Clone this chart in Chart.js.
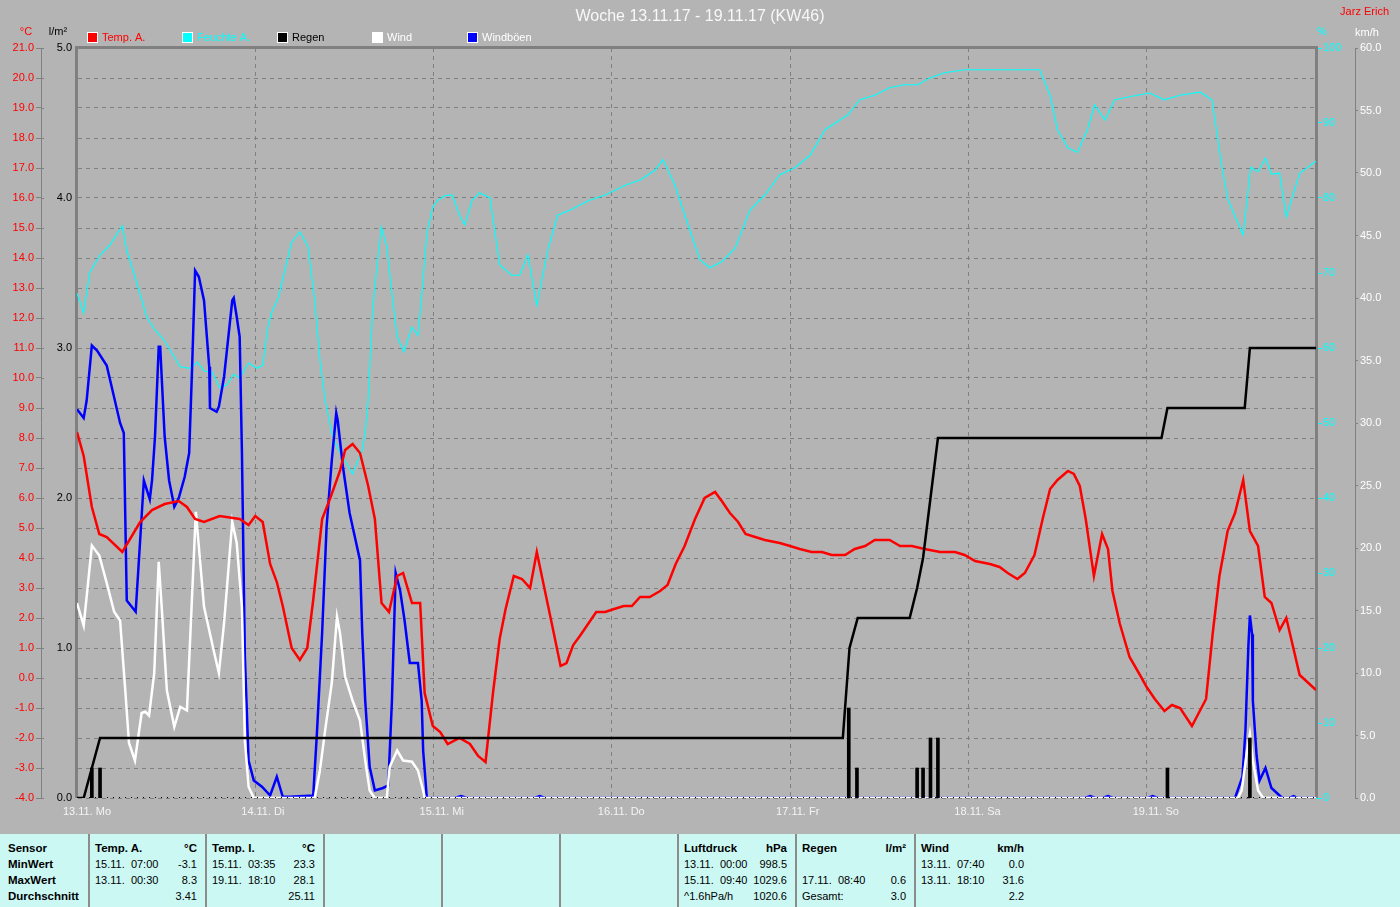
<!DOCTYPE html>
<html lang="de">
<head>
    <title>Woche 13.11.17 - 19.11.17 (KW46)</title>
    <meta charset="utf-8">
    <script src="https://cdn.jsdelivr.net/npm/chart.js"></script>
    <style>
        html, body { margin: 0; padding: 0; background: #b4b4b4; }
        body { width: 1400px; height: 907px; position: relative; overflow: hidden; }
        #weekchart { position: absolute; left: 0; top: 0; }
        .stats {
            position: absolute; left: 0; top: 834px; width: 1400px; height: 73px;
            background: #ccf8f4; color: #000;
            font-family: "Liberation Sans", Arial, sans-serif;
            font-size: 11px;
        }
        .col { position: absolute; top: 0; height: 73px; box-sizing: border-box; padding: 6px 8px 0 5px; border-left: 2px solid #8c8c8c; }
        .col.first { border-left: none; padding-left: 8px; }
        .row { display: flex; justify-content: space-between; height: 16px; line-height: 16px; white-space: pre; }
        .b { font-weight: bold; font-size: 11.5px; }
    </style>
</head>
<body>
    <canvas id="weekchart" width="1400" height="830"></canvas>
    <div class="stats" id="stats"></div>
    <script>
        // x axis: hours since 13.11. 00:00
        const hourMax = 166.8;
        const dayTicks = [0, 24, 48, 72, 96, 120, 144];
        const dayLabels = ['13.11. Mo', '14.11. Di', '15.11. Mi', '16.11. Do', '17.11. Fr', '18.11. Sa', '19.11. So'];

        const tempHours = [0, 0.9, 2.0, 3.0, 4.0, 6.1, 8.5, 10.1, 11.8, 13.7, 14.8, 15.9, 17.1, 19.2, 21.9, 23.1, 24.0, 25.0, 26.0, 26.9, 27.7, 28.9, 30.0, 31.0, 31.8, 33.0, 34.1, 35.4, 36.1, 37.1, 38.1, 39.2, 40.1, 41.0, 42.0, 43.1, 43.9, 45.1, 46.2, 46.8, 47.9, 48.9, 49.9, 51.5, 52.9, 54.0, 55.0, 56.0, 56.9, 57.7, 58.8, 59.9, 61.0, 61.9, 63.0, 64.1, 65.1, 65.9, 66.8, 67.7, 68.8, 69.9, 71.1, 72.3, 73.6, 74.7, 75.8, 77.1, 78.5, 79.5, 80.6, 81.8, 83.2, 84.5, 85.9, 86.8, 87.9, 89.0, 90.0, 91.3, 92.6, 94.6, 96.0, 97.3, 98.9, 100.3, 101.6, 103.4, 104.7, 106.1, 107.4, 109.4, 110.8, 112.4, 114.1, 116.2, 118.2, 119.5, 120.9, 122.9, 124.2, 125.3, 126.6, 127.6, 128.9, 130.0, 131.0, 132.0, 133.4, 134.2, 135.0, 135.8, 136.9, 138.0, 138.8, 139.4, 140.4, 141.7, 143.1, 144.0, 145.1, 146.4, 147.4, 148.5, 150.1, 152.0, 152.9, 153.8, 154.9, 155.9, 157.0, 157.9, 159.0, 159.9, 160.8, 161.9, 162.8, 164.6, 166.8];
        const tempValues = [8.2, 7.4, 5.7, 4.8, 4.7, 4.2, 5.2, 5.6, 5.8, 5.9, 5.7, 5.3, 5.2, 5.4, 5.3, 5.1, 5.4, 5.2, 3.8, 3.2, 2.4, 1.0, 0.6, 1.0, 2.6, 5.3, 6.0, 6.9, 7.6, 7.8, 7.5, 6.4, 5.3, 2.5, 2.2, 3.4, 3.5, 2.5, 2.5, -0.5, -1.6, -1.8, -2.2, -2.0, -2.2, -2.6, -2.8, -0.5, 1.3, 2.3, 3.4, 3.3, 3.0, 4.2, 2.9, 1.6, 0.4, 0.5, 1.1, 1.4, 1.8, 2.2, 2.2, 2.3, 2.4, 2.4, 2.7, 2.7, 2.9, 3.1, 3.8, 4.4, 5.3, 6.0, 6.2, 5.9, 5.5, 5.2, 4.8, 4.7, 4.6, 4.5, 4.4, 4.3, 4.2, 4.2, 4.1, 4.1, 4.3, 4.4, 4.6, 4.6, 4.4, 4.4, 4.3, 4.2, 4.2, 4.1, 3.9, 3.8, 3.7, 3.5, 3.3, 3.5, 4.1, 5.3, 6.3, 6.6, 6.9, 6.8, 6.4, 5.3, 3.4, 4.8, 4.3, 2.9, 1.8, 0.7, 0.1, -0.3, -0.7, -1.1, -0.9, -1.0, -1.6, -0.7, 1.5, 3.4, 4.9, 5.5, 6.6, 4.9, 4.4, 2.7, 2.5, 1.6, 2.0, 0.1, -0.4];

        const humHours = [0, 0.9, 1.7, 3.1, 4.4, 6.1, 6.7, 7.8, 9.4, 10.5, 11.7, 12.8, 13.9, 15.2, 16.2, 17.2, 18.2, 19.2, 20.2, 21.1, 21.9, 23.1, 24.2, 25.0, 25.7, 26.2, 27.1, 28.0, 28.9, 30.0, 31.1, 32.0, 32.7, 33.4, 34.3, 35.0, 37.1, 38.4, 38.8, 39.2, 39.8, 40.5, 41.0, 41.7, 42.5, 43.1, 44.0, 45.1, 45.9, 46.4, 47.1, 47.9, 48.6, 49.5, 50.5, 51.5, 52.2, 53.2, 54.2, 55.6, 56.9, 58.5, 59.6, 60.7, 61.9, 63.4, 64.7, 66.4, 69.0, 71.1, 73.8, 75.8, 77.8, 78.9, 80.5, 82.5, 83.9, 85.2, 86.8, 88.6, 90.6, 92.6, 94.6, 96.6, 98.7, 100.7, 102.7, 103.8, 105.4, 107.4, 109.4, 111.4, 113.2, 114.8, 116.8, 119.5, 124.2, 129.6, 131.0, 132.0, 133.4, 134.7, 136.1, 137.0, 138.4, 139.7, 141.7, 144.4, 146.4, 148.5, 151.2, 152.8, 153.6, 154.1, 154.9, 156.1, 157.0, 158.0, 159.0, 160.0, 160.8, 161.9, 162.8, 164.6, 166.8];
        const humValues = [67.3, 64.7, 70.0, 72.4, 73.7, 76.3, 73.0, 69.5, 64.1, 62.4, 61.1, 59.3, 57.5, 57.3, 58.1, 56.9, 56.8, 54.7, 55.1, 56.5, 56.0, 58.0, 57.3, 57.7, 62.8, 64.7, 66.7, 70.4, 74.1, 75.5, 73.5, 66.4, 58.4, 53.1, 48.7, 46.8, 43.2, 46.4, 48.7, 53.1, 65.1, 72.0, 76.1, 73.5, 66.4, 61.5, 59.5, 62.8, 61.7, 66.8, 75.3, 78.8, 79.7, 80.3, 80.4, 77.7, 76.4, 79.7, 80.7, 80.0, 71.1, 69.7, 69.7, 72.4, 65.7, 73.1, 77.7, 78.4, 79.7, 80.4, 81.7, 82.4, 83.7, 85.1, 81.7, 75.7, 71.7, 70.7, 71.5, 73.3, 78.4, 80.4, 83.1, 84.0, 85.7, 89.1, 90.4, 91.1, 93.1, 93.7, 94.7, 95.1, 95.1, 96.0, 96.7, 97.1, 97.1, 97.1, 93.7, 89.1, 86.7, 86.1, 89.3, 92.4, 90.4, 93.1, 93.5, 94.0, 93.1, 93.7, 94.1, 93.1, 87.7, 84.4, 79.9, 77.1, 75.1, 84.1, 83.5, 85.3, 83.2, 83.3, 77.5, 83.3, 84.9];

        const gustHours = [0, 0.9, 1.3, 2.0, 2.7, 4.0, 5.8, 6.3, 6.7, 7.9, 8.5, 9.0, 9.8, 10.1, 10.5, 11.0, 11.2, 11.8, 12.4, 13.1, 13.7, 14.5, 15.1, 15.5, 15.9, 16.4, 17.1, 17.8, 17.9, 18.8, 19.1, 19.8, 20.9, 21.1, 21.5, 21.9, 22.2, 22.6, 23.1, 23.8, 24.9, 26.0, 26.9, 27.7, 28.7, 31.8, 32.3, 33.0, 33.6, 34.3, 34.9, 35.1, 35.8, 36.7, 38.1, 38.4, 38.8, 39.4, 40.1, 41.2, 41.9, 42.4, 42.9, 43.5, 44.1, 44.8, 45.9, 46.4, 46.6, 47.1, 50.9, 51.7, 52.5, 61.6, 62.3, 63.0, 135.7, 136.4, 137.1, 138.1, 138.8, 139.5, 144.2, 144.8, 145.5, 155.9, 156.9, 157.3, 157.7, 157.9, 158.2, 158.3, 158.8, 159.2, 160.0, 160.8, 161.9, 162.3, 163.2, 163.8, 164.3, 166.8];
        const gustValues = [31.1, 30.4, 31.8, 36.2, 35.8, 34.6, 30.0, 29.2, 15.8, 14.9, 20.6, 25.4, 23.9, 25.4, 28.9, 36.1, 36.1, 28.9, 25.4, 23.3, 24.0, 25.7, 27.6, 34.5, 42.2, 41.7, 39.8, 34.5, 31.2, 30.9, 31.3, 33.7, 39.8, 40.0, 38.5, 36.9, 27.8, 11.3, 3.0, 1.4, 0.9, 0.2, 1.7, 0.1, 0.1, 0.2, 5.2, 13.2, 21.7, 27.0, 30.8, 30.2, 26.5, 22.8, 19.0, 13.2, 7.8, 2.5, 0.6, 0.8, 1.0, 7.8, 18.0, 16.6, 14.2, 10.8, 10.8, 7.8, 3.8, 0, 0, 0.15, 0, 0, 0.15, 0, 0, 0.15, 0, 0, 0.15, 0, 0, 0.15, 0, 0, 1.7, 5.4, 12.2, 14.6, 13.1, 7.8, 3.4, 1.4, 2.4, 0.8, 0.2, 0, 0, 0.15, 0, 0];

        const windHours = [0, 0.9, 2.0, 3.0, 4.0, 5.0, 5.8, 6.5, 7.0, 7.8, 8.7, 9.2, 9.7, 10.4, 11.0, 11.4, 12.1, 13.1, 13.9, 14.8, 16.0, 17.1, 18.4, 19.1, 19.8, 20.9, 21.5, 22.2, 22.6, 23.1, 23.8, 32.0, 32.7, 33.4, 34.3, 35.0, 35.4, 36.1, 37.1, 38.1, 38.8, 39.4, 40.1, 41.7, 42.1, 43.1, 43.9, 45.1, 45.9, 46.6, 46.8, 156.3, 156.8, 157.5, 157.9, 158.3, 159.0, 159.7, 166.8];
        const windValues = [15.6, 13.8, 20.2, 19.4, 17.2, 14.9, 14.2, 8.6, 4.4, 3.0, 6.8, 6.9, 6.6, 10.0, 18.9, 15.3, 8.6, 5.7, 7.3, 7.0, 22.9, 15.3, 11.8, 10.0, 14.0, 22.1, 20.4, 15.3, 4.6, 0.9, 0, 0, 2.2, 5.4, 9.2, 14.5, 13.2, 9.7, 7.8, 6.2, 3.0, 0.6, 0, 0, 2.5, 3.8, 3.0, 2.9, 2.2, 0.6, 0, 0, 0.6, 3.7, 5.1, 3.0, 0.6, 0, 0];

        // rain: running total and single readings
        const rainSumHours = [0, 0.9, 3.1, 103.1, 104.0, 105.1, 112.1, 113.1, 113.9, 114.9, 115.9, 146.0, 146.8, 157.2, 157.9, 166.8];
        const rainSumValues = [0, 0, 0.4, 0.4, 1.0, 1.2, 1.2, 1.4, 1.6, 2.0, 2.4, 2.4, 2.6, 2.6, 3.0, 3.0];
        const rainHours = [2.0, 3.1, 103.9, 105.0, 113.1, 113.9, 114.9, 115.9, 146.8, 157.9];
        const rainValues = [0.2, 0.2, 0.6, 0.2, 0.2, 0.2, 0.4, 0.4, 0.2, 0.4];

        const legendTextColors = ['#ff0000', '#00ffff', '#000000', '#ffffff', '#ffffff'];

        const statCols = [
            { left: 0, width: 88, head: ['Sensor', ''], rows: [['MinWert', ''], ['MaxWert', ''], ['Durchschnitt', '']] },
            { left: 88, width: 117, head: ['Temp. A.', '°C'], rows: [['15.11.  07:00', '-3.1'], ['13.11.  00:30', '8.3'], ['', '3.41']] },
            { left: 205, width: 118, head: ['Temp. I.', '°C'], rows: [['15.11.  03:35', '23.3'], ['19.11.  18:10', '28.1'], ['', '25.11']] },
            { left: 323, width: 118, head: ['', ''], rows: [] },
            { left: 441, width: 118, head: ['', ''], rows: [] },
            { left: 559, width: 118, head: ['', ''], rows: [] },
            { left: 677, width: 118, head: ['Luftdruck', 'hPa'], rows: [['13.11.  00:00', '998.5'], ['15.11.  09:40', '1029.6'], ['^1.6hPa/h', '1020.6']] },
            { left: 795, width: 119, head: ['Regen', 'l/m²'], rows: [['', ''], ['17.11.  08:40', '0.6'], ['Gesamt:', '3.0']] },
            { left: 914, width: 118, head: ['Wind', 'km/h'], rows: [['13.11.  07:40', '0.0'], ['13.11.  18:10', '31.6'], ['', '2.2']] }
        ];

        // stats table below the chart
        const stats = document.getElementById('stats');
        statCols.forEach((c, ci) => {
            const col = document.createElement('div');
            col.className = 'col' + (ci === 0 ? ' first' : '');
            col.style.left = c.left + 'px';
            col.style.width = c.width + 'px';
            [c.head].concat(c.rows).forEach((r, ri) => {
                const row = document.createElement('div');
                row.className = 'row' + (ri === 0 || ci === 0 ? ' b' : '');
                r.forEach(t => {
                    const s = document.createElement('span');
                    s.textContent = t;
                    row.appendChild(s);
                });
                col.appendChild(row);
            });
            stats.appendChild(col);
        });

        const pts = (xs, ys) => xs.map((x, i) => ({ x: x, y: ys[i] }));
        const font = { family: 'Liberation Sans, Arial, sans-serif', size: 11 };
        Chart.defaults.font = font;

        const extras = {
            id: 'extras',
            beforeDatasetsDraw(chart) {
                const { ctx, chartArea: a } = chart;
                ctx.save();
                ctx.strokeStyle = '#808080';
                ctx.lineWidth = 3;
                ctx.beginPath();
                ctx.moveTo(a.left - 0.5, a.bottom);
                ctx.lineTo(a.left - 0.5, a.top - 0.5);
                ctx.lineTo(a.right + 0.5, a.top - 0.5);
                ctx.lineTo(a.right + 0.5, a.bottom);
                ctx.stroke();
                // temp ticks cross the axis line
                const t = chart.scales.temp;
                ctx.lineWidth = 1;
                ctx.beginPath();
                t.ticks.forEach(tk => {
                    const y = Math.round(t.getPixelForValue(tk.value)) + 0.5;
                    ctx.moveTo(t.right, y);
                    ctx.lineTo(t.right + 3, y);
                });
                ctx.stroke();
                ctx.restore();
            },
            afterDatasetsDraw(chart) {
                const { ctx, chartArea: a } = chart;
                const y = Math.round(chart.scales.rain.getPixelForValue(0)) - 0.5;
                ctx.save();
                ctx.strokeStyle = '#000';
                ctx.lineWidth = 1;
                ctx.setLineDash([1, 5]);
                ctx.beginPath();
                ctx.moveTo(a.left, y);
                ctx.lineTo(a.right, y);
                ctx.stroke();
                ctx.restore();
            },
            afterDraw(chart) {
                const ctx = chart.ctx;
                ctx.save();
                ctx.font = '11px Liberation Sans, Arial, sans-serif';
                ctx.textBaseline = 'middle';
                // legend
                chart.data.datasets.slice(0, 5).forEach((ds, i) => {
                    const x = 87 + i * 95;
                    ctx.fillStyle = '#ffffff';
                    ctx.fillRect(x, 32, 11, 11);
                    ctx.fillStyle = ds.borderColor;
                    ctx.fillRect(x + 1, 33, 9, 9);
                    ctx.fillStyle = legendTextColors[i];
                    ctx.textAlign = 'left';
                    ctx.fillText(ds.label, x + 15, 38);
                });
                // axis units
                ctx.textAlign = 'center';
                ctx.fillStyle = '#ff0000';
                ctx.fillText('°C', 26, 32);
                ctx.fillStyle = '#000000';
                ctx.fillText('l/m²', 58, 32);
                ctx.fillStyle = '#00ffff';
                ctx.fillText('%', 1322, 32);
                ctx.fillStyle = '#ffffff';
                ctx.fillText('km/h', 1367, 33);
                ctx.textAlign = 'right';
                ctx.fillStyle = '#ff0000';
                ctx.fillText('Jarz Erich', 1389, 12);
                ctx.restore();
            }
        };

        const weekChart = new Chart(document.getElementById('weekchart'), {
            type: 'line',
            data: {
                datasets: [
                    { label: 'Temp. A.', data: pts(tempHours, tempValues), yAxisID: 'temp', borderColor: '#ff0000', borderWidth: 2.5, order: 2 },
                    { label: 'Feuchte A.', data: pts(humHours, humValues), yAxisID: 'hum', borderColor: '#00ffff', borderWidth: 1.2, order: 5 },
                    { label: 'Regen', data: pts(rainSumHours, rainSumValues), yAxisID: 'rain', borderColor: '#000000', borderWidth: 2.5, order: 1 },
                    { label: 'Wind', data: pts(windHours, windValues), yAxisID: 'wind', borderColor: '#ffffff', borderWidth: 2.5, order: 3 },
                    { label: 'Windböen', data: pts(gustHours, gustValues), yAxisID: 'wind', borderColor: '#0000ff', borderWidth: 2.5, order: 4 },
                    { type: 'bar', label: 'Regen', data: pts(rainHours, rainValues), yAxisID: 'rain', backgroundColor: '#000000', barThickness: 3, order: 0 }
                ]
            },
            options: {
                responsive: false,
                animation: false,
                layout: { padding: 0 },
                elements: { point: { radius: 0 }, line: { tension: 0 } },
                plugins: {
                    legend: { display: false },
                    tooltip: { enabled: false },
                    title: {
                        display: true,
                        text: 'Woche 13.11.17 - 19.11.17 (KW46)',
                        color: '#f8f8f8',
                        font: { family: 'Liberation Sans, Arial, sans-serif', size: 16, weight: 'normal', lineHeight: 1.25 },
                        padding: { top: 7, bottom: 21 }
                    }
                },
                scales: {
                    x: {
                        type: 'linear', min: 0, max: hourMax, offset: false,
                        afterFit: s => { s.height = 32; },
                        afterBuildTicks: s => { s.ticks = dayTicks.map(v => ({ value: v })); },
                        grid: { color: '#808080', drawTicks: false, offset: false },
                        border: { display: false, dash: [4, 4] },
                        ticks: {
                            align: 'start', labelOffset: -14, padding: 7, maxRotation: 0, autoSkip: false,
                            color: '#f4f4f4', callback: (v, i) => dayLabels[i]
                        }
                    },
                    temp: {
                        position: 'left', weight: 2, min: -4, max: 21,
                        afterFit: s => { s.width = 41; },
                        ticks: { stepSize: 1, autoSkip: false, padding: 2, color: '#ff0000', callback: v => v.toFixed(1) },
                        grid: { color: '#808080', tickColor: '#808080', tickLength: 5, tickBorderDash: [] },
                        border: { display: true, color: '#808080', width: 1, dash: [4, 4] }
                    },
                    rain: {
                        position: 'left', weight: 1, min: 0, max: 5,
                        afterFit: s => { s.width = 36; },
                        ticks: { stepSize: 1, autoSkip: false, padding: 5, color: '#000000', callback: v => v.toFixed(1) },
                        grid: { display: false, drawTicks: false },
                        border: { display: false }
                    },
                    hum: {
                        position: 'right', weight: 1, min: 0, max: 100,
                        afterFit: s => { s.width = 39; },
                        ticks: { stepSize: 10, autoSkip: false, padding: 1, color: '#00ffff' },
                        grid: { drawOnChartArea: false, tickColor: '#00ffff', tickLength: 6 },
                        border: { display: false }
                    },
                    wind: {
                        position: 'right', weight: 2, min: 0, max: 60,
                        afterFit: s => { s.width = 45; },
                        ticks: { stepSize: 5, autoSkip: false, padding: 2, color: '#ffffff', callback: v => v.toFixed(1) },
                        grid: { drawOnChartArea: false, tickColor: '#808080', tickLength: 3 },
                        border: { display: true, color: '#808080', width: 1 }
                    }
                }
            },
            plugins: [extras]
        });
    </script>
</body>
</html>
